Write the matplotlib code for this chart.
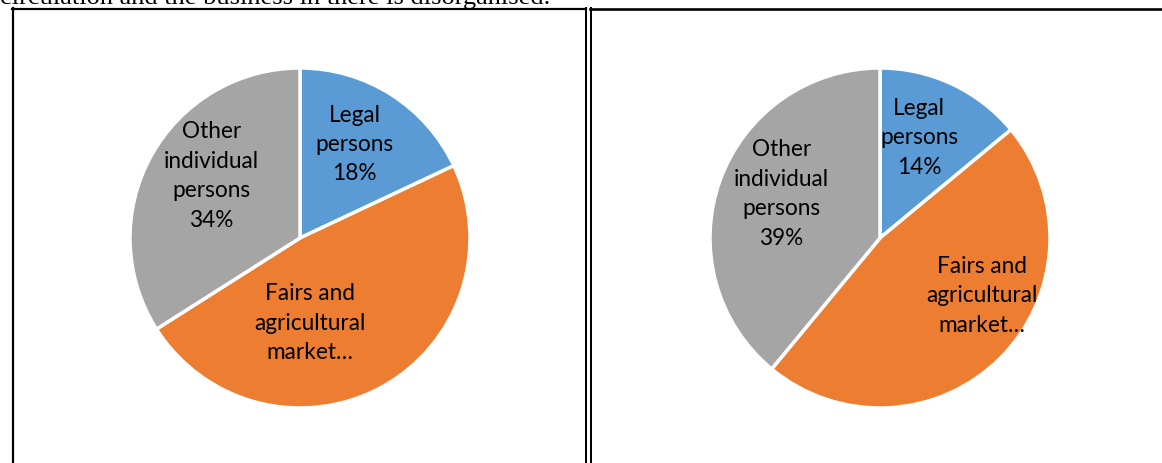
import matplotlib.pyplot as plt
from matplotlib.lines import Line2D

# data
categories = ["Legal\npersons", "Fairs and\nagricultural\nmarket…", "Other\nindividual\npersons"]
left_shares = [18, 48, 34]
right_shares = [14, 47, 39]
colors = ["#5B9BD5", "#ED7D31", "#A5A5A5"]

# label anchors (pie radius units), same order as categories
left_label_pos = [(0.32, 0.55), (0.06, -0.50), (-0.52, 0.365)]
right_label_pos = [(0.23, 0.59), (0.60, -0.34), (-0.58, 0.26)]

W, H = 1162, 463
fig = plt.figure(figsize=(W / 100, H / 100), dpi=100)


def fx(x):
    return x / W


def fy(y):
    return 1 - y / H


def draw_pie(cx, cy, r, shares, label_pos):
    ax = fig.add_axes([fx(cx - r), fy(cy + r), 2 * r / W, 2 * r / H])
    ax.pie(shares, colors=colors, startangle=90, counterclock=False,
           wedgeprops=dict(edgecolor="white", linewidth=2.5))
    for cat, val, (lx, ly) in zip(categories, shares, label_pos):
        ax.text(lx, ly, f"{cat}\n{val}%" if "market" not in cat else cat,
                ha="center", va="center", fontsize=16.3, family="Lato",
                linespacing=1.5, color="#000000")
    ax.set_xlim(-1, 1)
    ax.set_ylim(-1, 1)
    ax.axis("off")


draw_pie(300, 238, 170, left_shares, left_label_pos)
draw_pie(880, 238, 170, right_shares, right_label_pos)

# table borders
lines = [
    ((12.5, 12.5), (8, 463), 2.2),
    ((12, 586), (8.5, 8.5), 2.2),
    ((586, 586), (8, 463), 2.0),
    ((590.5, 590.5), (8, 463), 2.0),
    ((590, 1162), (8.5, 8.5), 2.6),
]
for xs, ys, lw in lines:
    fig.add_artist(Line2D([fx(x) for x in xs], [fy(y) for y in ys],
                          color="black", linewidth=lw * 0.72))

# clipped sentence above the table
fig.text(fx(0), fy(4), "circulation and the business in there is disorganised.",
         family="Liberation Serif", fontsize=19, va="baseline", ha="left")

fig.savefig("out.png", dpi=100)
